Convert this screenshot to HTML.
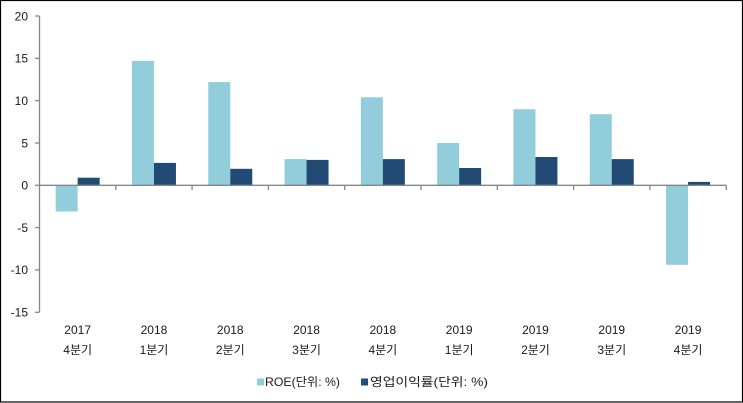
<!DOCTYPE html>
<html>
<head>
<meta charset="utf-8">
<style>
  html,body{margin:0;padding:0;background:#fff;}
  body{width:743px;height:403px;overflow:hidden;}
  svg{display:block;}
  text{font-family:"Liberation Sans","Noto Sans CJK KR",sans-serif;fill:#1a1a1a;}
</style>
</head>
<body>
<svg width="743" height="403" viewBox="0 0 743 403" xmlns="http://www.w3.org/2000/svg">
  <rect x="0.5" y="0.5" width="742" height="401.5" fill="#fff" stroke="#000" stroke-width="1.2"/>

  <!-- bars: ROE (light) -->
  <g fill="#92CDDC">
    <rect x="55.65" y="185.3" width="22" height="26.2"/>
    <rect x="131.95" y="60.9" width="22" height="124.4"/>
    <rect x="208.25" y="82.1" width="22" height="103.2"/>
    <rect x="284.55" y="159.1" width="22" height="26.2"/>
    <rect x="360.85" y="97.3" width="22" height="88.0"/>
    <rect x="437.15" y="143.0" width="22" height="42.3"/>
    <rect x="513.45" y="109.2" width="22" height="76.1"/>
    <rect x="589.75" y="114.2" width="22" height="71.1"/>
    <rect x="666.05" y="185.3" width="22" height="79.5"/>
  </g>
  <!-- bars: 영업이익률 (dark) -->
  <g fill="#214B74">
    <rect x="77.65" y="177.7" width="22" height="7.6"/>
    <rect x="153.95" y="162.9" width="22" height="22.4"/>
    <rect x="230.25" y="168.8" width="22" height="16.5"/>
    <rect x="306.55" y="159.9" width="22" height="25.4"/>
    <rect x="382.85" y="159.1" width="22" height="26.2"/>
    <rect x="459.15" y="168.0" width="22" height="17.3"/>
    <rect x="535.45" y="157.0" width="22" height="28.3"/>
    <rect x="611.75" y="159.1" width="22" height="26.2"/>
    <rect x="688.05" y="181.9" width="22" height="3.4"/>
  </g>

  <!-- axes -->
  <g stroke="#868686" stroke-width="1.3" fill="none">
    <line x1="39.5" y1="16" x2="39.5" y2="312.3"/>
    <line x1="35" y1="16" x2="39.5" y2="16"/>
    <line x1="35" y1="58.3" x2="39.5" y2="58.3"/>
    <line x1="35" y1="100.6" x2="39.5" y2="100.6"/>
    <line x1="35" y1="143" x2="39.5" y2="143"/>
    <line x1="35" y1="185.3" x2="39.5" y2="185.3"/>
    <line x1="35" y1="227.6" x2="39.5" y2="227.6"/>
    <line x1="35" y1="269.9" x2="39.5" y2="269.9"/>
    <line x1="35" y1="312.3" x2="39.5" y2="312.3"/>
    <line x1="39.5" y1="185.3" x2="726.3" y2="185.3"/>
    <line x1="115.8" y1="185.3" x2="115.8" y2="190"/>
    <line x1="192.1" y1="185.3" x2="192.1" y2="190"/>
    <line x1="268.4" y1="185.3" x2="268.4" y2="190"/>
    <line x1="344.7" y1="185.3" x2="344.7" y2="190"/>
    <line x1="421" y1="185.3" x2="421" y2="190"/>
    <line x1="497.3" y1="185.3" x2="497.3" y2="190"/>
    <line x1="573.6" y1="185.3" x2="573.6" y2="190"/>
    <line x1="649.9" y1="185.3" x2="649.9" y2="190"/>
    <line x1="726.3" y1="185.3" x2="726.3" y2="190"/>
  </g>

  <!-- y labels -->
  <g font-size="12" text-anchor="end">
    <text x="28" y="20.3">20</text>
    <text x="28" y="62.6">15</text>
    <text x="28" y="104.9">10</text>
    <text x="28" y="147.3">5</text>
    <text x="28" y="189.6">0</text>
    <text x="28" y="231.9">-5</text>
    <text x="28" y="274.2">-10</text>
    <text x="28" y="316.6">-15</text>
  </g>

  <!-- x labels -->
  <g font-size="12" text-anchor="middle">
    <text x="77.65" y="334">2017</text>
    <text x="153.95" y="334">2018</text>
    <text x="230.25" y="334">2018</text>
    <text x="306.55" y="334">2018</text>
    <text x="382.85" y="334">2018</text>
    <text x="459.15" y="334">2019</text>
    <text x="535.45" y="334">2019</text>
    <text x="611.75" y="334">2019</text>
    <text x="688.05" y="334">2019</text>
  </g>
  <g font-size="12" text-anchor="middle">
    <text x="77.65" y="354">4분기</text>
    <text x="153.95" y="354">1분기</text>
    <text x="230.25" y="354">2분기</text>
    <text x="306.55" y="354">3분기</text>
    <text x="382.85" y="354">4분기</text>
    <text x="459.15" y="354">1분기</text>
    <text x="535.45" y="354">2분기</text>
    <text x="611.75" y="354">3분기</text>
    <text x="688.05" y="354">4분기</text>
  </g>

  <!-- legend -->
  <rect x="257" y="378.5" width="7" height="7" fill="#92CDDC"/>
  <text x="265" y="386" font-size="12" textLength="75" lengthAdjust="spacingAndGlyphs">ROE(단위: %)</text>
  <rect x="361" y="378.5" width="7" height="7" fill="#214B74"/>
  <text x="370" y="386" font-size="12" textLength="118" lengthAdjust="spacingAndGlyphs">영업이익률(단위: %)</text>
</svg>
</body>
</html>
